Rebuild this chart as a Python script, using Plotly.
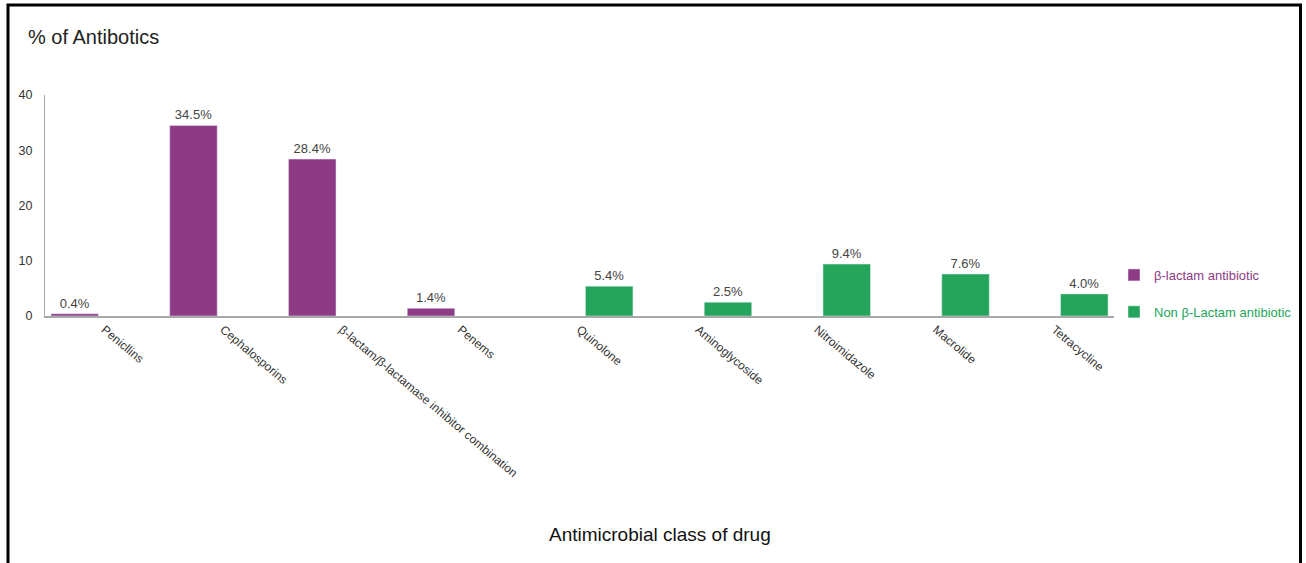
import plotly.graph_objects as go

# Antimicrobial classes, split into beta-lactam and non beta-lactam groups
beta_classes = ["Penicllins", "Cephalosporins",
                "β-lactam/β-lactamase inhibitor combination", "Penems"]
beta_pct = [0.4, 34.5, 28.4, 1.4]

non_beta_classes = ["Quinolone", "Aminoglycoside", "Nitroimidazole",
                    "Macrolide", "Tetracycline"]
non_beta_pct = [5.4, 2.5, 9.4, 7.6, 4.0]

y_ticks = [0, 10, 20, 30, 40]

PURPLE = "#8E3B86"
GREEN = "#24A55B"
FONT = "Liberation Sans, Arial, sans-serif"

W, H = 1306, 563
L, R, T, B = 45, 192, 95, 247
plot_w = W - L - R
plot_h = H - T - B


def px_x(x):
    return (x - L) / plot_w


def px_y(y):
    return (H - B - y) / plot_h


fig = go.Figure()
fig.add_trace(go.Bar(
    x=beta_classes, y=beta_pct,
    name=f"<span style='color:{PURPLE}'>β-lactam antibiotic</span>",
    marker_color=PURPLE, legendgroup="beta", offsetgroup="beta",
    texttemplate="%{y:.1f}%", textposition="outside",
    textfont=dict(size=13, color="#444444", family=FONT),
    cliponaxis=False,
))
fig.add_trace(go.Bar(
    x=non_beta_classes, y=non_beta_pct,
    name=f"<span style='color:{GREEN}'>Non β-Lactam antibiotic</span>",
    marker_color=GREEN, legendgroup="nonbeta", offsetgroup="nonbeta",
    texttemplate="%{y:.1f}%", textposition="outside",
    textfont=dict(size=13, color="#444444", family=FONT),
    cliponaxis=False,
))

fig.update_layout(
    width=W, height=H,
    margin=dict(l=L, r=R, t=T, b=B, autoexpand=False),
    paper_bgcolor="white", plot_bgcolor="white",
    font=dict(family=FONT, color="#333333"),
    barmode="group", bargap=0.0, bargroupgap=0.2,
    title=dict(text="% of Antibotics", x=28 / W, xref="container",
               xanchor="left", y=1 - 37 / H, yref="container",
               yanchor="middle",
               font=dict(size=20, color="#222222", family=FONT)),
    showlegend=True,
    legend=dict(x=px_x(1114), xanchor="left", y=px_y(260), yanchor="top",
                font=dict(size=13, family=FONT), tracegroupgap=17,
                traceorder="grouped", bgcolor="rgba(0,0,0,0)"),
)

fig.update_xaxes(
    type="category",
    categoryorder="array", categoryarray=beta_classes + non_beta_classes,
    tickangle=40, showgrid=False, zeroline=False,
    showline=True, linecolor="#A8A8A8", linewidth=2,
    ticks="", tickfont=dict(size=12, color="#333333", family=FONT),
)
fig.update_yaxes(
    range=[0, 40], tickvals=y_ticks, showgrid=False, zeroline=False,
    showline=True, linecolor="#A8A8A8", linewidth=1,
    ticks="", ticklabelstandoff=9,
    tickfont=dict(size=12.5, color="#333333", family=FONT),
)

# Axis title for the categories
fig.add_annotation(
    text="Antimicrobial class of drug", xref="paper", yref="paper",
    x=px_x(660), y=px_y(534), xanchor="center", yanchor="middle",
    showarrow=False, font=dict(size=19, color="#111111", family=FONT),
)

# Black frame around the chart
fig.add_shape(
    type="rect", xref="paper", yref="paper",
    x0=px_x(8), x1=px_x(1300.5), y0=px_y(5), y1=px_y(600),
    line=dict(color="black", width=3), fillcolor="rgba(0,0,0,0)",
    layer="above",
)

fig.write_html("out.html")
